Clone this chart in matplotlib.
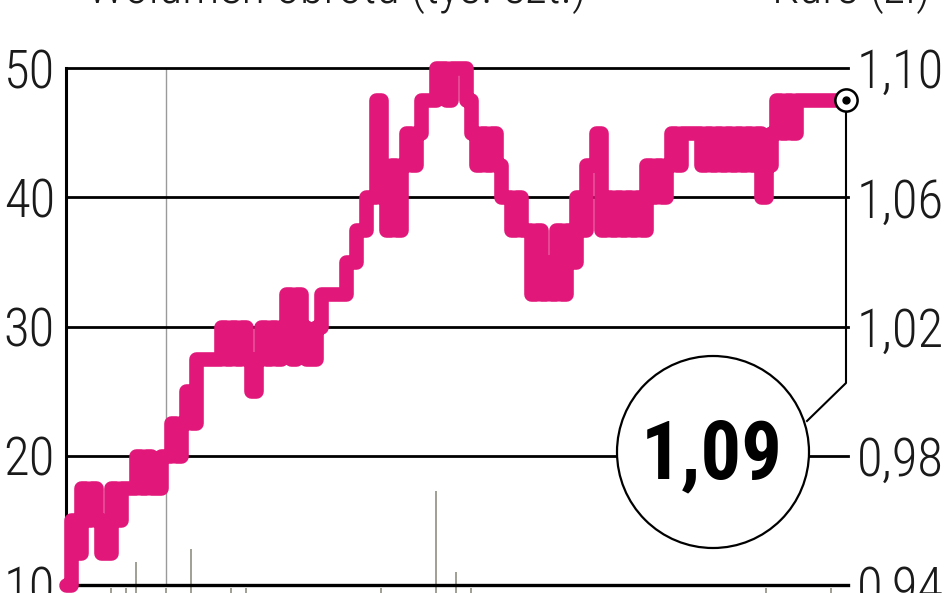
import numpy as np
import matplotlib
matplotlib.use("Agg")
import matplotlib.pyplot as plt
from matplotlib import font_manager
from matplotlib.patches import Circle
from matplotlib.lines import Line2D

# wąski krój, jeśli jest; inaczej Liberation Sans
_have = {f.name for f in font_manager.fontManager.ttflist}
FONT = next((f for f in ['Roboto Condensed', 'Barlow Condensed', 'Saira Condensed',
                         'Liberation Sans Narrow', 'Liberation Sans'] if f in _have),
            'DejaVu Sans')
plt.rcParams['font.family'] = [FONT, 'DejaVu Sans']

# kurs (w groszach), kolejne sesje
price_gr = [
    94, 96, 95,
    97, 96, 97, 96, 95, 95, 97, 96, 97, 97, 97,
    98, 97, 98, 97, 97, 98, 98,
    99, 98, 99,
    100, 99, 101,
    101, 101, 101, 101,
    102, 101, 102, 101, 102, 101, 100, 101, 102, 101, 102, 101, 102,
    103, 101, 103, 102, 101, 101, 102, 103,
    103, 103, 103, 103,
    104, 104, 105, 105, 106, 106,
    109, 106, 105, 107, 105, 107,
    108, 107, 108,
    109, 109, 109,
    110, 110, 109, 110, 110, 110,
    109,
    108, 107, 108, 107, 108,
    107, 106,
    106, 105, 106, 105,
    105, 103, 105, 103, 104, 103, 105, 103, 105, 104,
    106, 105,
    107,
    107, 108, 105,
    106, 105, 106, 105, 106, 105, 106, 105,
    107, 106, 107, 106, 107,
    108, 107,
    108, 108, 108, 108,
    107, 108, 107, 108, 107, 108, 107, 108, 107, 108, 107, 108, 106, 107, 108,
    109, 108, 109, 108, 109,
    109, 109, 109, 109, 109, 109, 109, 109, 109, 109,
]
price = np.array(price_gr) / 100.0

# wolumen (lewa oś), numer sesji i wierzchołek słupka
vol_idx = [9, 12, 14, 20, 25, 33, 36, 63, 74, 78, 81, 140, 153]
vol_top = [9.8, 9.8, 11.8, 9.8, 12.8, 9.8, 9.8, 9.8, 17.3, 11.0, 9.8, 9.8, 9.8]

left_ticks = [10, 20, 30, 40, 50]
right_ticks = [0.94, 0.98, 1.02, 1.06, 1.10]
right_labels = ['0,94', '0,98', '1,02', '1,06', '1,10']
last_label = '1,09'
sep_idx = 20  # pionowa linia (przełom roku)

PINK = '#e2177a'
TXT = '#1a1a1a'
W, H = 948, 593

fig = plt.figure(figsize=(W / 100, H / 100), dpi=100)
ax = fig.add_axes([66 / W, 8 / H, 780 / W, 517 / H])
n = len(price)
ax.set_xlim(0, n - 1)
ax.set_ylim(10, 50)
for s in ['top', 'right', 'bottom']:
    ax.spines[s].set_visible(False)
ax.spines['left'].set_linewidth(2.2)
ax.spines['left'].set_zorder(3)

for v in left_ticks:
    ax.axhline(v, xmin=0, xmax=1.003, color='black', lw=2.0 if v > 10 else 2.4,
               zorder=3, clip_on=False)
ax.axvline(sep_idx, color='#9a9a9a', lw=1.0, zorder=1)
ax.vlines(vol_idx, 9.0, vol_top, color='#8f8f80', lw=1.2, zorder=2, clip_on=False)

ax.set_xticks([])
ax.set_yticks(left_ticks)
ax.set_yticklabels([str(v) for v in left_ticks], fontweight='light')
ax.tick_params(axis='y', length=0, pad=8, labelsize=38, colors=TXT)

ax2 = ax.twinx()
ax2.set_ylim(0.94, 1.10)
for s in ax2.spines.values():
    s.set_visible(False)
ax2.set_yticks(right_ticks)
ax2.set_yticklabels(right_labels, fontweight='light')
ax2.tick_params(axis='y', length=0, pad=8, labelsize=38, colors=TXT)

x = np.arange(n)
ax2.plot(x, price, drawstyle='steps-post', color=PINK, lw=10.5,
         solid_joinstyle='round', solid_capstyle='round', clip_on=False, zorder=4)
ax2.plot([n - 1], [price[-1]], 'o', ms=16, mfc='white', mec='black', mew=1.8,
         clip_on=False, zorder=6)
ax2.plot([n - 1], [price[-1]], 'o', ms=5, color='black', clip_on=False, zorder=7)

# dymek z ostatnim kursem
tr = fig.dpi_scale_trans
fig.add_artist(Line2D([8.46, 8.46, 8.07], [4.81, 2.10, 1.72], color='black',
                      lw=1.5, transform=tr, zorder=5))
fig.add_artist(Circle((7.13, 1.41), 0.96, transform=tr, facecolor='white',
                      edgecolor='black', lw=1.6, zorder=6))
fig.text(7.12, 1.15, last_label, transform=tr, ha='center', va='baseline',
         fontsize=58, fontweight='bold', color='black', zorder=7)

# nagłówki osi (ucięte u góry)
fig.text(87 / W, 1 - 3 / H, 'Wolumen obrotu (tys. szt.)', ha='left', va='baseline',
         fontsize=35, fontweight='light', color=TXT)
fig.text(772 / W, 1 - 3 / H, 'Kurs (zł)', ha='left', va='baseline',
         fontsize=35, fontweight='light', color=TXT)

fig.savefig('out.png', dpi=100)
